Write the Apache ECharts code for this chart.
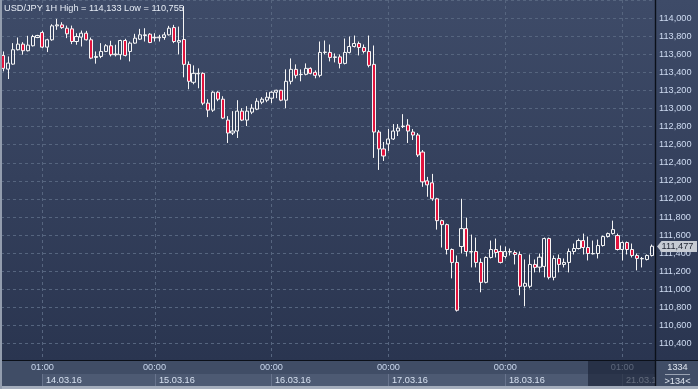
<!DOCTYPE html>
<html><head><meta charset="utf-8">
<script src="https://cdn.jsdelivr.net/npm/echarts@6/dist/echarts.min.js"></script>
<style>
html,body{margin:0;padding:0;background:#2a3550;}
#c{width:698px;height:389px;background:linear-gradient(to bottom,#3e4b68 0px,#2a3550 360px,#2a3550 389px);}
</style>
</head><body><div id="c"></div>
<script>
// ---- data ----
const sessions = [['11.03.16',16,23],['14.03.16',1,23],['15.03.16',0,23],['16.03.16',0,23],['17.03.16',0,23],['18.03.16',0,23],['21.03.16',1,7]];
const opens = [113.587,113.436,113.491,113.650,113.712,113.639,113.694,113.785,113.840,113.679,
113.760,113.914,113.925,113.888,113.881,113.741,113.789,113.833,113.760,113.565,
113.576,113.631,113.694,113.595,113.595,113.752,113.631,113.723,113.767,113.807,
113.822,113.782,113.782,113.785,113.815,113.895,113.734,113.763,113.488,113.290,
113.384,113.389,113.059,112.982,113.180,113.103,112.872,112.729,112.751,112.971,
112.872,112.960,112.993,113.070,113.092,113.114,113.180,113.202,113.092,113.301,
113.433,113.375,113.378,113.444,113.400,113.367,113.620,113.620,113.565,113.571,
113.499,113.620,113.686,113.719,113.675,113.631,113.488,112.740,112.553,112.608,
112.663,112.751,112.800,112.817,112.740,112.707,112.519,112.200,112.178,112.002,
111.760,111.716,111.441,111.298,111.474,111.672,111.413,111.419,111.298,111.078,
111.353,111.441,111.419,111.364,111.413,111.408,111.386,111.034,111.034,111.276,
111.246,111.254,111.562,111.133,111.342,111.276,111.298,111.419,111.452,111.540,
111.463,111.393,111.397,111.485,111.584,111.617,111.595,111.441,111.518,111.441,
111.375,111.338,111.331,111.375];
const closes = [113.444,113.502,113.650,113.712,113.639,113.701,113.796,113.807,113.679,113.760,
113.914,113.925,113.895,113.826,113.741,113.796,113.833,113.760,113.557,113.576,
113.631,113.694,113.595,113.602,113.752,113.587,113.723,113.778,113.815,113.815,
113.730,113.787,113.789,113.815,113.888,113.741,113.752,113.488,113.301,113.389,
113.389,113.059,112.982,113.180,113.103,112.894,112.729,112.751,112.971,112.872,
112.971,113.004,113.081,113.103,113.125,113.180,113.202,113.092,113.301,113.433,
113.367,113.378,113.444,113.389,113.367,113.620,113.624,113.565,113.571,113.499,
113.620,113.686,113.719,113.675,113.631,113.477,112.740,112.553,112.475,112.663,
112.751,112.784,112.806,112.751,112.707,112.486,112.189,112.156,112.002,111.760,
111.716,111.441,111.298,110.769,111.672,111.419,111.419,111.298,111.078,111.353,
111.441,111.408,111.298,111.419,111.419,111.386,111.034,111.067,111.276,111.243,
111.356,111.562,111.133,111.342,111.276,111.298,111.419,111.452,111.540,111.463,
111.397,111.397,111.485,111.584,111.617,111.661,111.441,111.518,111.441,111.375,
111.342,111.342,111.375,111.477];
const lows = [113.411,113.326,113.485,113.642,113.595,113.631,113.686,113.778,113.668,113.624,
113.749,113.870,113.881,113.778,113.712,113.705,113.686,113.752,113.546,113.496,
113.557,113.624,113.576,113.576,113.540,113.576,113.521,113.716,113.760,113.741,
113.723,113.741,113.741,113.760,113.807,113.723,113.598,113.345,113.213,113.268,
113.224,113.037,112.905,112.963,113.081,112.883,112.619,112.707,112.674,112.861,
112.806,112.938,112.982,113.048,113.070,113.059,113.114,113.081,113.004,113.268,
113.334,113.301,113.367,113.378,113.334,113.345,113.598,113.521,113.510,113.444,
113.488,113.609,113.675,113.587,113.609,113.455,112.454,112.321,112.420,112.531,
112.652,112.696,112.784,112.619,112.652,112.464,112.134,112.024,111.980,111.661,
111.463,111.386,111.122,110.755,111.397,111.364,111.243,111.243,110.968,111.067,
111.342,111.353,111.287,111.342,111.375,111.276,110.935,110.813,111.012,111.188,
111.188,111.133,111.111,111.100,111.188,111.243,111.188,111.386,111.441,111.386,
111.320,111.386,111.342,111.474,111.573,111.606,111.430,111.320,111.386,111.353,
111.210,111.243,111.320,111.364];
const highs = [113.631,113.576,113.723,113.785,113.734,113.804,113.815,113.815,113.859,113.771,
113.932,113.991,113.954,113.917,113.917,113.833,113.862,113.859,113.785,113.631,
113.723,113.712,113.749,113.705,113.760,113.771,113.741,113.826,113.881,113.888,
113.833,113.833,113.815,113.844,113.914,113.925,113.906,114.133,113.521,113.477,
113.444,113.400,113.103,113.191,113.191,113.136,112.916,112.971,113.092,113.004,
113.026,113.048,113.114,113.125,113.180,113.191,113.207,113.207,113.433,113.554,
113.488,113.433,113.499,113.455,113.422,113.741,113.752,113.708,113.609,113.598,
113.774,113.796,113.807,113.741,113.708,113.807,113.697,112.762,112.630,112.773,
112.828,112.828,112.938,112.883,112.773,112.729,112.541,112.244,112.277,112.013,
111.771,111.727,111.452,111.375,112.002,111.793,111.606,111.573,111.342,111.364,
111.540,111.562,111.485,111.474,111.452,111.430,111.419,111.331,111.386,111.331,
111.397,111.573,111.573,111.375,111.386,111.342,111.452,111.507,111.562,111.617,
111.584,111.540,111.551,111.595,111.628,111.760,111.617,111.529,111.529,111.507,
111.397,111.358,111.386,111.496];
const yMin = 110.2, yMax = 114.2, yStep = 0.2;
const titleText = 'USD/JPY 1H High = 114,133 Low = 110,755';
const lastPriceText = '111,477';
const counterTop = '1334', counterBottom = '>134<';

// ---- build categories ----
const categories = [];
const dayStarts = [];
const dayTimes = [];
const dayDates = [];
sessions.forEach((s, k) => {
  if (k > 0) { dayStarts.push(categories.length); dayTimes.push(String(s[1]).padStart(2,'0') + ':00'); dayDates.push(s[0]); }
  for (let h = s[1]; h <= s[2]; h++) categories.push(s[0] + ' ' + String(h).padStart(2,'0') + ':00');
});
const data = opens.map((o, i) => [o, closes[i], lows[i], highs[i]]);

const FONT = '9.2px "Liberation Sans", Arial, sans-serif';
const chart = echarts.init(document.getElementById('c'), null, {renderer: 'canvas'});
chart.setOption({
  animation: false,
  grid: {left: 1, right: 44, top: -1.67, bottom: 27.27, show: false},
  xAxis: {type: 'category', data: categories, boundaryGap: true,
    axisLine: {show: false}, axisTick: {show: false}, axisLabel: {show: false}, splitLine: {show: false}},
  yAxis: {type: 'value', position: 'right', min: yMin, max: yMax, interval: yStep,
    axisLine: {show: false}, axisTick: {show: false},
    splitLine: {show: true, lineStyle: {color: '#56657f', type: [3, 3], width: 1}},
    axisLabel: {show: true, margin: 5, color: '#cfdcf2', fontSize: 9.2, fontFamily: '"Liberation Sans", Arial, sans-serif',
      showMinLabel: false, showMaxLabel: false,
      formatter: v => v.toFixed(3).replace('.', ',')}},
  series: [{
    type: 'candlestick', data: data, barWidth: 3.6, z: 5,
    itemStyle: {color: 'rgba(0,0,0,0)', color0: '#e2133d', borderColor: '#f6f6f6', borderColor0: '#f6f6f6', borderColorDoji: '#f6f6f6', borderWidth: 1}
  }]
});

const px = i => chart.convertToPixel({xAxisIndex: 0}, categories[i]);
const py = v => chart.convertToPixel({yAxisIndex: 0}, v);
const W = 698, H = 389, AX = 655, PB = 360;
const els = [];
function txt(x, y, text, fill, align, z) {
  return {type: 'text', z: z, silent: true, style: {x: x, y: y, text: text, fill: fill, font: FONT,
    textAlign: align, align: align, textVerticalAlign: 'middle', verticalAlign: 'middle'}};
}
// vertical dashed gridlines
dayStarts.forEach(i => {
  const x = Math.round(px(i)) + 0.5;
  els.push({type: 'line', z: 1, silent: true, shape: {x1: x, y1: 0, x2: x, y2: PB}, style: {stroke: '#56657f', lineWidth: 1, lineDash: [3, 3]}});
});
// bottom axis panel
els.push({type: 'rect', z: 100, silent: true, shape: {x: 0, y: PB, width: W, height: H - PB}, style: {fill: '#404d66'}});
dayStarts.forEach((i, k) => {
  const x0 = Math.round(px(i));
  const x1 = k + 1 < dayStarts.length ? Math.round(px(dayStarts[k + 1])) : AX;
  els.push({type: 'rect', z: 100.5, silent: true, shape: {x: x0, y: 374, width: x1 - x0, height: 12}, style: {fill: '#4d5a73'}});
  els.push({type: 'line', z: 100.6, silent: true, shape: {x1: x0 + 0.5, y1: 374, x2: x0 + 0.5, y2: 386}, style: {stroke: '#68748d', lineWidth: 1}});
  els.push(txt(px(i), 367.5, dayTimes[k], '#c8d6ec', 'center', 101));
  els.push(txt(x0 + 4, 380.5, dayDates[k], '#d6e0f0', 'left', 101));
});
// darkened current region
const xd = Math.round(px(120));
els.push({type: 'rect', z: 102, silent: true, shape: {x: xd, y: PB + 1, width: AX - xd, height: 25}, style: {fill: 'rgba(24,33,52,0.62)'}});
// bottom-right counter box
els.push({type: 'rect', z: 103, silent: true, shape: {x: AX, y: PB, width: W - AX, height: H - PB}, style: {fill: '#404d66'}});
els.push(txt(677.5, 367, counterTop, '#dde4ee', 'center', 104));
els.push({type: 'line', z: 104, silent: true, shape: {x1: 665, y1: 374.5, x2: 690, y2: 374.5}, style: {stroke: '#9aa3b3', lineWidth: 1}});
els.push(txt(677.5, 381, counterBottom, '#dde4ee', 'center', 104));
// separators and borders
els.push({type: 'line', z: 105, silent: true, shape: {x1: 0, y1: PB + 0.5, x2: W, y2: PB + 0.5}, style: {stroke: '#0b1019', lineWidth: 1}});
els.push({type: 'line', z: 105, silent: true, shape: {x1: AX + 0.5, y1: 0, x2: AX + 0.5, y2: H}, style: {stroke: '#0b1019', lineWidth: 1.4}});
els.push({type: 'rect', z: 106, silent: true, shape: {x: 0, y: 386, width: W, height: 3}, style: {fill: '#a4adbc'}});
els.push({type: 'rect', z: 106, silent: true, shape: {x: 0, y: 0, width: 2, height: H}, style: {fill: '#939dae'}});
// last price tag
const yp = Math.round(py(closes[closes.length - 1])) + 0.5;
els.push({type: 'polygon', z: 107, silent: true, shape: {points: [[657, yp], [661.5, yp - 5.5], [697, yp - 5.5], [697, yp + 5.5], [661.5, yp + 5.5]]}, style: {fill: '#c6cbd3'}});
els.push(txt(677.5, yp, lastPriceText, '#1d2331', 'center', 108));
// title
els.push(txt(4, 8.5, titleText, '#e6ecf5', 'left', 4));
chart.setOption({graphic: {elements: els}});
</script>
</body></html>
